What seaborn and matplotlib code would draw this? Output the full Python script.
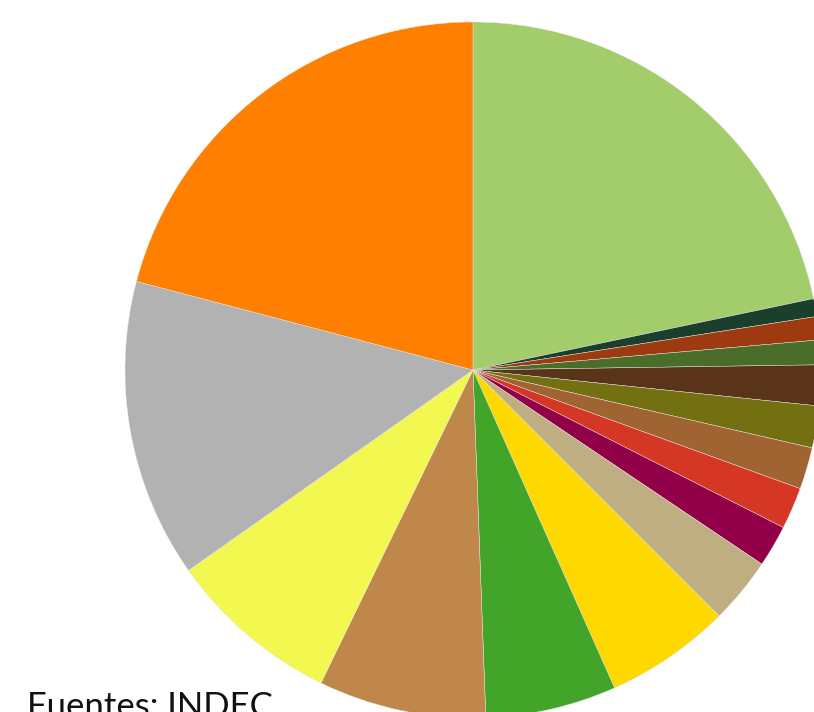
import seaborn as sns
import matplotlib
matplotlib.use("Agg")
import matplotlib.pyplot as plt

# slice shares (%), clockwise from 12 o'clock
categorias = ["Cat 1", "Cat 2", "Cat 3", "Cat 4", "Cat 5", "Cat 6", "Cat 7", "Cat 8",
              "Cat 9", "Cat 10", "Cat 11", "Cat 12", "Cat 13", "Cat 14", "Cat 15", "Cat 16"]
valores = [21.7, 0.83, 1.08, 1.14, 1.89, 1.94, 1.94, 1.94,
           1.94, 3.08, 5.83, 6.08, 7.78, 8.03, 13.86, 20.89]
colores = ["#A3CD6A", "#1B3F2D", "#9E3A10", "#4A6E2A", "#5A3419", "#737012", "#A06432", "#D63624",
           "#93004A", "#BFAE82", "#FFD800", "#42A52A", "#BF884A", "#F2F84F", "#B2B2B2", "#FF8000"]

sns.set_style("white")
plt.rcParams['font.family'] = ['Lato', 'DejaVu Sans']

fig = plt.figure(figsize=(8.14, 7.12), dpi=100)
# pie is bigger than the canvas on the right and bottom, like the original
ax = fig.add_axes([125 / 814, -6 / 712, 696 / 814, 696 / 712])
ax.pie(valores, labels=None, colors=colores, startangle=90, counterclock=False,
       radius=1, wedgeprops={"edgecolor": "#e8e8e8", "linewidth": 0.3})
ax.set_xlim(-1, 1)
ax.set_ylim(-1, 1)
ax.set_aspect("equal")
ax.axis("off")

fig.text(27 / 814, 1 - 691 / 712, "Fuentes: INDEC", fontsize=25, color="#111111",
         va="top", ha="left")

fig.savefig("out.png", dpi=100)
